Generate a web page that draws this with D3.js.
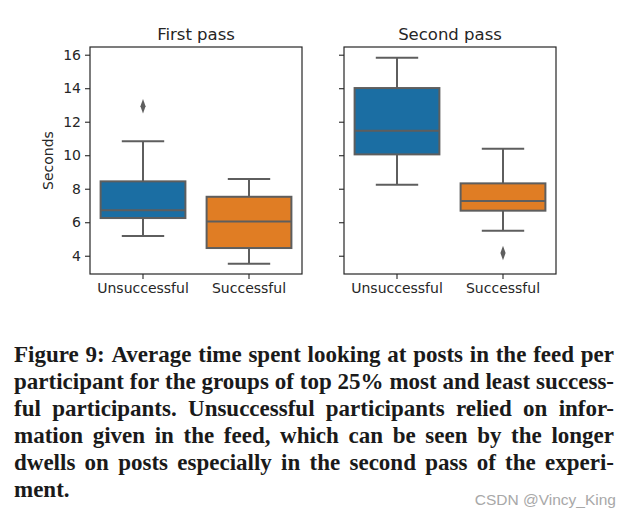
<!DOCTYPE html>
<html><head><meta charset="utf-8">
<script src="https://cdn.jsdelivr.net/npm/d3@7"></script>
<style>body{margin:0;background:#fff}svg{display:block}</style>
</head><body>
<script>
const categories = ["Unsuccessful", "Successful"];
const panels = ["First pass", "Second pass"];
// [whiskerLow, Q1, median, Q3, whiskerHigh]
const firstPass = [[5.18, 6.25, 6.71, 8.44, 10.83], [3.52, 4.46, 6.05, 7.52, 8.58]];
const secondPass = [[8.24, 10.05, 11.46, 14.01, 15.82], [5.49, 6.69, 7.27, 8.32, 10.39]];
const firstOutliers = [[12.92], []];
const secondOutliers = [[], [4.16]];
const yTicks = [4, 6, 8, 10, 12, 14, 16];
const colors = ["#1b6ea3", "#e07d24"];
const captionLines = [
  "Figure 9: Average time spent looking at posts in the feed per",
  "participant for the groups of top 25% most and least success-",
  "ful participants. Unsuccessful participants relied on infor-",
  "mation given in the feed, which can be seen by the longer",
  "dwells on posts especially in the second pass of the experi-",
  "ment."
];

const W = 626, H = 516;
const svg = d3.select("body").append("svg").attr("width", W).attr("height", H);
const y = d3.scaleLinear().domain([2.91, 16.46]).range([274, 47]);
const panelX = [90, 344];
const pw = 212;
const data = [firstPass, secondPass];
const outl = [firstOutliers, secondOutliers];
const lineCol = "#5e5e5e";
const fs = 14;

panels.forEach((title, pi) => {
  const g = svg.append("g").attr("transform", `translate(${panelX[pi]},0)`);
  const x = d3.scaleBand().domain(categories).range([0, pw]).paddingInner(0).paddingOuter(0);
  const bw = x.bandwidth() * 0.8;
  g.append("rect").attr("x", 0).attr("y", 47).attr("width", pw).attr("height", 227)
    .attr("fill", "none").attr("stroke", "#262626").attr("stroke-width", 1.2);
  const ya = g.append("g").call(d3.axisLeft(y).tickValues(yTicks).tickSize(5).tickPadding(4)
      .tickFormat(pi === 0 ? d3.format("d") : () => ""));
  ya.select(".domain").remove();
  ya.selectAll(".tick line").attr("stroke", "#262626").attr("stroke-width", 1.1);
  ya.selectAll("text").attr("font-family", "DejaVu Sans").attr("font-size", fs).attr("fill", "#262626");
  const xa = g.append("g").attr("transform", "translate(0,274)")
    .call(d3.axisBottom(x).tickSize(5).tickPadding(4));
  xa.select(".domain").remove();
  xa.selectAll(".tick line").attr("stroke", "#262626").attr("stroke-width", 1.1);
  xa.selectAll("text").attr("font-family", "DejaVu Sans").attr("font-size", fs).attr("fill", "#262626");
  g.append("text").attr("x", pw / 2).attr("y", 40).attr("text-anchor", "middle")
    .attr("font-family", "DejaVu Sans").attr("font-size", 16.5).attr("fill", "#262626").text(title);

  categories.forEach((c, ci) => {
    const s = data[pi][ci];
    const cx = x(c) + x.bandwidth() / 2;
    const bg = g.append("g");
    bg.append("line").attr("x1", cx).attr("x2", cx).attr("y1", y(s[0])).attr("y2", y(s[1]))
      .attr("stroke", lineCol).attr("stroke-width", 2);
    bg.append("line").attr("x1", cx).attr("x2", cx).attr("y1", y(s[3])).attr("y2", y(s[4]))
      .attr("stroke", lineCol).attr("stroke-width", 2);
    [s[0], s[4]].forEach(v => bg.append("line").attr("x1", cx - bw / 4).attr("x2", cx + bw / 4)
      .attr("y1", y(v)).attr("y2", y(v)).attr("stroke", lineCol).attr("stroke-width", 2));
    bg.append("rect").attr("x", cx - bw / 2).attr("width", bw).attr("y", y(s[3])).attr("height", y(s[1]) - y(s[3]))
      .attr("fill", colors[ci]).attr("stroke", lineCol).attr("stroke-width", 2);
    bg.append("line").attr("x1", cx - bw / 2).attr("x2", cx + bw / 2).attr("y1", y(s[2])).attr("y2", y(s[2]))
      .attr("stroke", lineCol).attr("stroke-width", 2);
    outl[pi][ci].forEach(v => {
      bg.append("path").attr("d", d3.symbol(d3.symbolDiamond, 60)())
        .attr("transform", `translate(${cx},${y(v)}) scale(0.62,1)`)
        .attr("fill", lineCol);
    });
  });
  if (pi === 0) {
    g.append("text").attr("transform", `translate(-37,${160.5}) rotate(-90)`).attr("text-anchor", "middle")
      .attr("font-family", "DejaVu Sans").attr("font-size", fs).attr("fill", "#262626").text("Seconds");
  }
});

// caption, justified
const capX0 = 14, capX1 = 614, lineH = 27, base0 = 362;
captionLines.forEach((ln, i) => {
  const words = ln.split(" ");
  const yb = base0 + i * lineH;
  const nodes = words.map(w => svg.append("text").attr("y", yb)
    .attr("font-family", "Liberation Serif").attr("font-weight", "bold").attr("font-size", 23)
    .attr("fill", "#1a1a1a").text(w));
  const widths = nodes.map(n => n.node().getComputedTextLength());
  const total = d3.sum(widths);
  const last = i === captionLines.length - 1;
  let gap = last ? 6 : (capX1 - capX0 - total) / (words.length - 1);
  let sc = 1;
  if (gap < 3) { sc = (capX1 - capX0 - 3 * (words.length - 1)) / total; gap = 3; }
  let xx = capX0;
  nodes.forEach((n, k) => {
    n.attr("x", xx);
    if (sc !== 1) n.attr("textLength", widths[k] * sc).attr("lengthAdjust", "spacingAndGlyphs");
    xx += widths[k] * sc + gap;
  });
});

svg.append("text").attr("x", 616).attr("y", 505).attr("text-anchor", "end")
  .attr("font-family", "Liberation Sans").attr("font-size", 15.5).attr("fill", "#a8a8a8").text("CSDN @Vincy_King");
</script>
</body></html>
